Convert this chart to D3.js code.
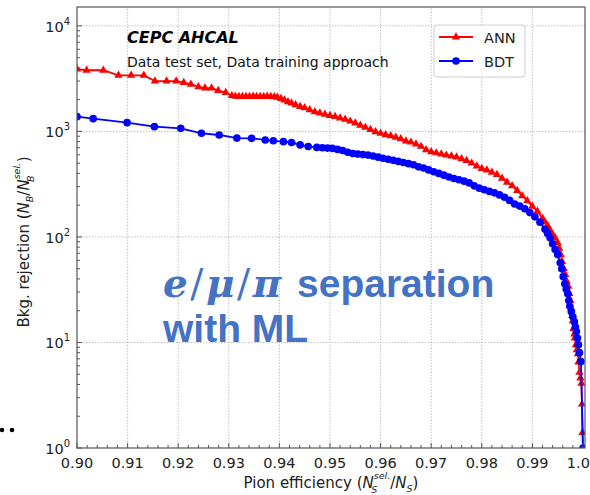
<!DOCTYPE html>
<html>
<head>
<meta charset="utf-8">
<script src="https://cdn.jsdelivr.net/npm/d3@7"></script>
<style>
  body { margin: 0; background: #fff; }
  svg { display: block; font-family: "DejaVu Sans", sans-serif; }
</style>
</head>
<body>
<div id="chart"></div>
<script>
// ANN curve: [pion efficiency, background rejection]
const annPoints = [
  [0.9000,3900],[0.9019,3800],[0.9052,3800],[0.9082,3400],[0.9107,3400],[0.9132,3400],
  [0.9154,3000],[0.9177,3000],[0.9196,3000],[0.9211,2900],[0.9225,2800],[0.9240,2650],
  [0.9253,2570],[0.9266,2570],[0.9279,2440],[0.9294,2330],[0.9306,2180],[0.9313,2150],
  [0.9320,2140],[0.9327,2140],[0.9334,2140],[0.9341,2140],[0.9348,2150],[0.9355,2140],
  [0.9362,2140],[0.9369,2140],[0.9376,2150],[0.9383,2140],[0.9390,2130],[0.9396,2100],
  [0.9403,2050],[0.9410,1980],[0.9417,1910],[0.9424,1850],[0.9432,1790],[0.9441,1720],
  [0.9450,1670],[0.9460,1600],[0.9470,1530],[0.9480,1490],[0.9490,1450],[0.9500,1410],
  [0.9510,1380],[0.9520,1340],[0.9530,1300],[0.9540,1250],[0.9550,1200],[0.9560,1140],
  [0.9570,1090],[0.9580,1040],[0.9590,990],[0.9600,960],[0.9610,930],[0.9620,910],
  [0.9630,880],[0.9640,850],[0.9650,810],[0.9660,790],[0.9670,760],[0.9680,720],
  [0.9690,670],[0.9700,640],[0.9710,625],[0.9720,610],[0.9730,595],[0.9740,585],
  [0.9750,570],[0.9760,550],[0.9770,530],[0.9780,500],[0.9790,470],[0.9800,445],
  [0.9810,430],[0.9820,410],[0.9830,390],[0.9840,360],[0.9850,330],[0.9860,305],
  [0.9870,275],[0.9880,245],[0.9890,220],[0.9900,195],[0.9910,175],[0.9920,150],
  [0.9925,138],[0.9930,128],[0.9935,116],[0.9940,106],[0.9945,98],[0.9950,88],
  [0.9953,78],[0.9956,68],[0.9959,58],[0.9962,50],[0.9965,44],[0.9968,38],
  [0.9971,34],[0.9973,29],[0.9975,25],[0.9977,21],[0.9979,18],[0.9980,16],
  [0.9981,13.5],[0.9983,12],[0.9984,11],[0.9986,9.5],[0.9988,8.5],[0.9990,7.8],
  [0.9991,6.5],[0.9993,5.2],[0.9995,4.6],[0.9997,4.1],[0.9998,2.6],[0.9999,1.4],
  [1.0000,1.0]
];

// BDT curve
const bdtPoints = [
  [0.9000,1380],[0.9032,1320],[0.9099,1210],[0.9153,1110],[0.9205,1070],[0.9246,960],
  [0.9281,925],[0.9316,865],[0.9345,860],[0.9372,830],[0.9388,815],[0.9408,800],
  [0.9424,785],[0.9441,745],[0.9457,720],[0.9474,705],[0.9485,700],[0.9495,695],
  [0.9505,690],[0.9515,675],[0.9525,660],[0.9535,635],[0.9545,618],[0.9555,610],
  [0.9565,603],[0.9575,597],[0.9585,585],[0.9595,570],[0.9605,557],[0.9615,545],
  [0.9625,532],[0.9635,520],[0.9645,508],[0.9655,495],[0.9665,483],[0.9675,462],
  [0.9685,450],[0.9695,432],[0.9705,415],[0.9715,400],[0.9725,385],[0.9735,370],
  [0.9745,358],[0.9755,348],[0.9765,338],[0.9775,325],[0.9785,305],[0.9795,290],
  [0.9805,280],[0.9815,270],[0.9825,262],[0.9835,250],[0.9845,238],[0.9855,222],
  [0.9865,205],[0.9875,196],[0.9885,185],[0.9895,170],[0.9905,155],[0.9915,138],
  [0.9925,118],[0.9930,108],[0.9935,98],[0.9940,86],[0.9945,76],[0.9950,68],
  [0.9955,57],[0.9958,50],[0.9961,42],[0.9964,36],[0.9967,32],[0.9970,29],
  [0.9972,25],[0.9974,22],[0.9977,19.5],[0.9980,17.5],[0.9983,15.7],[0.9985,14],
  [0.9987,12.7],[0.9989,11],[0.9991,9.5],[0.9993,8],[0.9996,6.6],[1.0000,1.0]
];

const xTicks = [0.90,0.91,0.92,0.93,0.94,0.95,0.96,0.97,0.98,0.99,1.00];
const xTickLabels = ["0.90","0.91","0.92","0.93","0.94","0.95","0.96","0.97","0.98","0.99","1.00"];
const yTickExps = [0,1,2,3,4];
const seriesNames = ["ANN","BDT"];
const seriesColors = ["#ff0000","#0000ff"];

const W = 590, H = 495;
const margin = {top: 7, right: 5, bottom: 47, left: 77};

const svg = d3.select("#chart").append("svg")
    .attr("width", W).attr("height", H);

const x = d3.scaleLinear().domain([0.9, 1.0004]).range([margin.left, W - margin.right]);
const y = d3.scaleLog().domain([1, 15100]).range([H - margin.bottom, margin.top]);

const x0 = x.range()[0], x1 = x.range()[1], y0 = y.range()[0], y1 = y.range()[1];

// grid
const grid = svg.append("g").attr("stroke", "#b0b0b0").attr("stroke-width", 0.8)
    .attr("stroke-dasharray", "1.5,1.5");
grid.selectAll(".gx").data(xTicks.slice(1, -1)).enter().append("line")
    .attr("x1", d => x(d)).attr("x2", d => x(d)).attr("y1", y0).attr("y2", y1);
grid.selectAll(".gy").data(yTickExps.slice(1)).enter().append("line")
    .attr("y1", d => y(Math.pow(10, d))).attr("y2", d => y(Math.pow(10, d)))
    .attr("x1", x0).attr("x2", x1);

// clip
svg.append("clipPath").attr("id", "clip").append("rect")
    .attr("x", x0).attr("y", y1).attr("width", x1 - x0).attr("height", y0 - y1);

const plot = svg.append("g").attr("clip-path", "url(#clip)");
const line = d3.line().x(d => x(d[0])).y(d => y(d[1]));

const tri = d3.symbol().type(d3.symbolTriangle).size(30);
const circ = d3.symbol().type(d3.symbolCircle).size(46);

// ANN
plot.append("path").datum(annPoints).attr("d", line)
    .attr("fill", "none").attr("stroke", seriesColors[0]).attr("stroke-width", 1.8);
plot.selectAll(".ann").data(annPoints).enter().append("path")
    .attr("d", tri).attr("transform", d => "translate(" + x(d[0]) + "," + y(d[1]) + ")")
    .attr("fill", seriesColors[0]);

// BDT
plot.append("path").datum(bdtPoints).attr("d", line)
    .attr("fill", "none").attr("stroke", seriesColors[1]).attr("stroke-width", 1.8);
plot.selectAll(".bdt").data(bdtPoints).enter().append("path")
    .attr("d", circ).attr("transform", d => "translate(" + x(d[0]) + "," + y(d[1]) + ")")
    .attr("fill", seriesColors[1]);

// frame
svg.append("rect").attr("x", x0).attr("y", y1).attr("width", x1 - x0).attr("height", y0 - y1)
    .attr("fill", "none").attr("stroke", "#555").attr("stroke-width", 1.2);

// ticks (inward)
const xMinor = d3.range(0.902, 1.0001, 0.002).filter(v => Math.abs(Math.round(v * 100) - v * 100) > 1e-6);
svg.append("g").selectAll("line").data(xTicks).enter().append("line")
    .attr("x1", d => x(d)).attr("x2", d => x(d)).attr("y1", y0).attr("y2", y0 - 5)
    .attr("stroke", "#555");
svg.append("g").selectAll("line").data(xMinor).enter().append("line")
    .attr("x1", d => x(d)).attr("x2", d => x(d)).attr("y1", y0).attr("y2", y0 - 3)
    .attr("stroke", "#555");
svg.append("g").selectAll("line").data(yTickExps).enter().append("line")
    .attr("y1", d => y(Math.pow(10, d))).attr("y2", d => y(Math.pow(10, d)))
    .attr("x1", x0).attr("x2", x0 + 5).attr("stroke", "#555");
const yMinor = [];
[0,1,2,3,4].forEach(e => d3.range(2, 10).forEach(m => { const v = m * Math.pow(10, e); if (v < 15100) yMinor.push(v); }));
svg.append("g").selectAll("line").data(yMinor).enter().append("line")
    .attr("y1", d => y(d)).attr("y2", d => y(d))
    .attr("x1", x0).attr("x2", x0 + 3).attr("stroke", "#555");

// tick labels
svg.append("g").selectAll("text").data(xTicks).enter().append("text")
    .attr("x", d => x(d)).attr("y", y0 + 20)
    .attr("text-anchor", "middle").attr("font-size", 14.5).attr("fill", "#222")
    .text((d, i) => xTickLabels[i]);

const yl = svg.append("g").selectAll("text").data(yTickExps).enter().append("text")
    .attr("x", x0 - 7).attr("y", d => y(Math.pow(10, d)) + 6)
    .attr("text-anchor", "end").attr("font-size", 14.5).attr("fill", "#222");
yl.append("tspan").text("10");
yl.append("tspan").attr("font-size", 10).attr("dy", -7).text(d => d);

// axis labels
const xl = svg.append("text").attr("x", 331).attr("y", 488).attr("text-anchor", "middle")
    .attr("font-size", 15).attr("fill", "#222");
xl.append("tspan").text("Pion efficiency (");
xl.append("tspan").attr("font-style", "italic").text("N");
xl.append("tspan").attr("font-size", 9.5).attr("font-style", "italic").attr("dy", -9).text("sel.");
xl.append("tspan").attr("font-size", 9.5).attr("font-style", "italic").attr("dx", -19).attr("dy", 14).text("S");
xl.append("tspan").attr("dx", 13).attr("dy", -5).text("/");
xl.append("tspan").attr("font-style", "italic").text("N");
xl.append("tspan").attr("font-size", 9.5).attr("font-style", "italic").attr("dy", 4).text("S");
xl.append("tspan").attr("dy", -4).text(")");

const ylab = svg.append("text").attr("transform", "translate(29,242) rotate(-90)")
    .attr("text-anchor", "middle").attr("font-size", 15).attr("fill", "#222");
ylab.append("tspan").text("Bkg. rejection (");
ylab.append("tspan").attr("font-style", "italic").text("N");
ylab.append("tspan").attr("font-size", 9.5).attr("font-style", "italic").attr("dy", 4).text("B");
ylab.append("tspan").attr("dy", -4).text("/");
ylab.append("tspan").attr("font-style", "italic").text("N");
ylab.append("tspan").attr("font-size", 9.5).attr("font-style", "italic").attr("dy", -9).text("sel.");
ylab.append("tspan").attr("font-size", 9.5).attr("font-style", "italic").attr("dx", -19).attr("dy", 14).text("B");
ylab.append("tspan").attr("dx", 13).attr("dy", -5).text(")");

// annotations
svg.append("text").attr("x", 127).attr("y", 43).attr("font-size", 16)
    .attr("font-weight", "bold").attr("font-style", "italic").attr("fill", "#000").text("CEPC AHCAL");
svg.append("text").attr("x", 127).attr("y", 67).attr("font-size", 14)
    .attr("fill", "#111").text("Data test set, Data training approach");

// legend
const lg = svg.append("g");
lg.append("rect").attr("x", 434).attr("y", 25).attr("width", 91).attr("height", 52).attr("rx", 3)
    .attr("fill", "#fff").attr("fill-opacity", 0.8).attr("stroke", "#d0d0d0");
seriesNames.forEach((name, i) => {
  const ly = 37 + i * 24;
  lg.append("line").attr("x1", 439).attr("x2", 473).attr("y1", ly).attr("y2", ly)
      .attr("stroke", seriesColors[i]).attr("stroke-width", 1.8);
  lg.append("path").attr("d", i === 0 ? tri : circ).attr("transform", "translate(456," + ly + ")")
      .attr("fill", seriesColors[i]);
  lg.append("text").attr("x", 484).attr("y", ly + 6).attr("font-size", 14.5).attr("fill", "#222").text(name);
});

// overlay slide text
const ov = svg.append("text").attr("x", 163).attr("y", 297).attr("fill", "#4472c4").attr("font-size", 39);
const mathStyle = s => s.attr("font-family", "DejaVu Serif").attr("letter-spacing", 2.5);
mathStyle(ov.append("tspan")).attr("font-style", "italic").attr("font-weight", "bold").text("e");
mathStyle(ov.append("tspan")).text("/");
mathStyle(ov.append("tspan")).attr("font-style", "italic").attr("font-weight", "bold").text("μ");
mathStyle(ov.append("tspan")).text("/");
mathStyle(ov.append("tspan")).attr("font-style", "italic").attr("font-weight", "bold").text("π");
ov.append("tspan").attr("x", 297).attr("font-family", "Liberation Sans").attr("font-weight", "bold").text("separation");
svg.append("text").attr("x", 163).attr("y", 342).attr("fill", "#4472c4").attr("font-size", 39)
    .attr("font-family", "Liberation Sans").attr("font-weight", "bold").text("with ML");

// stray bullet dots at left edge
svg.append("g").selectAll("circle").data([2, 12]).enter().append("circle")
    .attr("cx", d => d).attr("cy", 430).attr("r", 2.3).attr("fill", "#000");
</script>
</body>
</html>
